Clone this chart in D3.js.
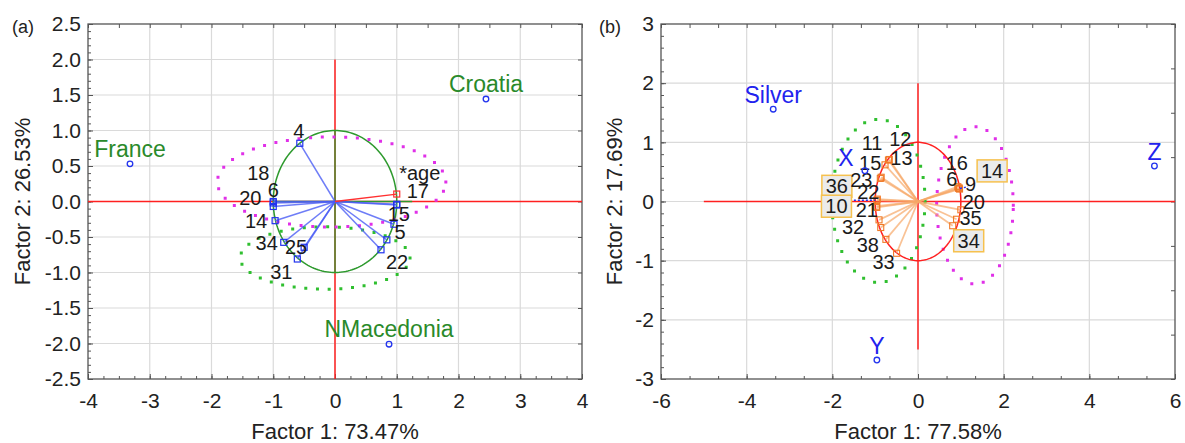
<!DOCTYPE html>
<html>
<head>
<meta charset="utf-8">
<script src="https://cdn.jsdelivr.net/npm/d3@7"></script>
<style>
body { margin: 0; background: #fff; }
text { font-family: "Liberation Sans", Arial, sans-serif; }
</style>
</head>
<body>
<svg id="chart" width="1185" height="443"></svg>
<script>
// ---- panel (a) data ----
const aVarNames = ["4", "18", "6", "20", "14", "34", "25", "31", "15", "17", "5", "", "22"];
const aVarX = [-0.57, -1.0, -1.0, -1.0, -0.97, -0.83, -0.50, -0.61, 1.0, 1.0, 0.955, 0.84, 0.745];
const aVarY = [0.82, -0.02, 0.0, -0.07, -0.27, -0.575, -0.645, -0.81, -0.05, -0.04, -0.32, -0.54, -0.68];
const aSupNames = ["*age"];
const aSupX = [1.0];
const aSupY = [0.105];
const aCaseNames = ["France", "Croatia", "NMacedonia"];
const aCaseX = [-3.32, 2.445, 0.875];
const aCaseY = [0.53, 1.443, -2.01];
const aEllCx = [-0.055, -0.16];
const aEllCy = [0.275, -0.795];
const aEllRx = [1.85, 1.375];
const aEllRy = [0.635, 0.44];
const aXTicks = [-4, -3, -2, -1, 0, 1, 2, 3, 4];
const aYTicks = [-2.5, -2.0, -1.5, -1.0, -0.5, 0.0, 0.5, 1.0, 1.5, 2.0, 2.5];

// ---- panel (b) data ----
const bVarNames = ["16", "6", "9", "14", "20", "35", "34", "12", "13", "11", "15", "23", "22", "36", "21", "10", "32", "", "38", "33"];
const bVarX = [0.93, 0.95, 0.97, 0.96, 1.0, 0.90, 0.81, -0.67, -0.69, -0.77, -0.86, -0.88, -0.95, -0.96, -0.96, -0.97, -0.91, -0.87, -0.75, -0.50];
const bVarY = [0.25, 0.22, 0.21, 0.23, -0.14, -0.30, -0.41, 0.71, 0.70, 0.62, 0.41, 0.39, 0.04, 0.02, -0.10, -0.08, -0.31, -0.44, -0.64, -0.875];
const bBoxed = ["14", "34", "36", "10"];
const bCaseNames = ["Silver", "X", "Y", "Z"];
const bCaseX = [-3.38, -1.24, -0.96, 5.52];
const bCaseY = [1.56, 0.52, -2.68, 0.60];
const bEllCx = [-0.925, 1.33];
const bEllCy = [0.01, -0.065];
const bEllRx = [1.09, 0.895];
const bEllRy = [1.38, 1.33];
const bSegX1 = [-1.59, 0.98];
const bSegY1 = [0.02, 0.22];
const bSegX2 = [-1.0, 1.17];
const bSegY2 = [0.02, 0.25];
const bXTicks = [-6, -4, -2, 0, 2, 4, 6];
const bYTicks = [-3, -2, -1, 0, 1, 2, 3];

// label nudges in px (label centre relative to its point)
const nudgeA = {
    "4": [-1, -12], "18": [-15, -30], "6": [0, -12], "20": [-23, -8], "14": [-19, 0],
    "34": [-17, 1], "25": [-8, 0], "31": [-16, 13], "15": [2, 9], "17": [21, -13],
    "5": [6, 8], "22": [16, 12], "*age": [23, -21]
};
const nudgeB = {
    "16": [-1, -24], "6": [-7, -9], "9": [11, -5], "14": [33, -17], "20": [13, -8],
    "35": [14, -1], "34": [16, 15], "12": [11, -20], "13": [13, -2], "11": [-13, -22],
    "15": [-11, -14], "23": [-19, 2], "22": [-9, -7], "36": [-40, -14], "21": [-10, 3],
    "10": [-40, 0], "32": [-26, 7], "38": [-18, 6], "33": [-13, 9]
};
const caseNudgeB = { "Silver": [0, -14], "X": [-19, -13], "Y": [0, -14], "Z": [0, -14] };

const svg = d3.select("#chart");
const gridColor = "#dadada";
const frameColor = "#555";
const hyphen = f => (d => f(d).replace("\u2212", "-"));

function zip(names, xs, ys) {
    return names.map((n, i) => ({ name: n, x: xs[i], y: ys[i] }));
}

function ellipsePath(x, y, cx, cy, rx, ry) {
    const pts = d3.range(0, 361, 2).map(a => {
        const t = a * Math.PI / 180;
        return [x(cx + rx * Math.cos(t)), y(cy + ry * Math.sin(t))];
    });
    return d3.line()(pts);
}

function frame(p) {
    const x = d3.scaleLinear().domain(p.xDomain).range([p.left, p.right]);
    const y = d3.scaleLinear().domain(p.yDomain).range([p.bottom, p.top]);
    const g = svg.append("g");

    // grid
    g.selectAll(".gx").data(p.xTicks.slice(1, -1)).join("line")
        .attr("class", "gx")
        .attr("x1", d => x(d)).attr("x2", d => x(d))
        .attr("y1", p.top).attr("y2", p.bottom)
        .attr("stroke", gridColor).attr("stroke-width", 1.2);
    g.selectAll(".gy").data(p.yTicks.slice(1, -1)).join("line")
        .attr("class", "gy")
        .attr("y1", d => y(d)).attr("y2", d => y(d))
        .attr("x1", p.left).attr("x2", p.right)
        .attr("stroke", gridColor).attr("stroke-width", 1.2);

    // axes, ticks pointing inward
    const axes = g.append("g");
    axes.append("g").attr("transform", `translate(0,${p.bottom})`)
        .call(d3.axisBottom(x).tickValues(p.xTicks).tickSize(-5).tickPadding(14).tickFormat(hyphen(p.xFmt)));
    axes.append("g").attr("transform", `translate(${p.left},0)`)
        .call(d3.axisLeft(y).tickValues(p.yTicks).tickSize(-5).tickPadding(7).tickFormat(hyphen(p.yFmt)));
    axes.append("g").attr("transform", `translate(0,${p.bottom})`)
        .call(d3.axisBottom(x).tickValues(p.xMinor).tickSize(-3).tickFormat(""));
    axes.append("g").attr("transform", `translate(${p.left},0)`)
        .call(d3.axisLeft(y).tickValues(p.yMinor).tickSize(-3).tickFormat(""));
    axes.append("g").attr("transform", `translate(0,${p.top})`)
        .call(d3.axisTop(x).tickValues(p.xTop).tickSize(-4).tickFormat(""));
    axes.append("g").attr("transform", `translate(${p.right},0)`)
        .call(d3.axisRight(y).tickValues(p.yRight).tickSize(-4).tickFormat(""));
    axes.selectAll(".domain").remove();
    axes.selectAll(".tick line").attr("stroke", frameColor);
    axes.selectAll(".tick text").attr("font-size", 21).attr("fill", "#222")
        .style("font-family", '"Liberation Sans", Arial, sans-serif');

    axes.append("rect")
        .attr("x", p.left).attr("y", p.top)
        .attr("width", p.right - p.left).attr("height", p.bottom - p.top)
        .attr("fill", "none").attr("stroke", frameColor).attr("stroke-width", 1.3);

    // titles
    svg.append("text").attr("x", (p.left + p.right) / 2).attr("y", 439)
        .attr("text-anchor", "middle").attr("font-size", 22).attr("fill", "#222")
        .text(p.xTitle);
    svg.append("text")
        .attr("transform", `translate(${p.yTitleX},${(p.top + p.bottom) / 2}) rotate(-90)`)
        .attr("text-anchor", "middle").attr("dominant-baseline", "central")
        .attr("font-size", 22).attr("fill", "#222")
        .text(p.yTitle);
    svg.append("text").attr("x", p.tagX).attr("y", 33)
        .attr("font-size", 18).attr("fill", "#222").text(p.tag);

    const marks = svg.append("g");
    return { x, y, g: marks };
}

function dotted(g, x, y, cx, cy, rx, ry, color) {
    g.selectAll(null).data(cx).join("path")
        .attr("d", (d, i) => ellipsePath(x, y, cx[i], cy[i], rx[i], ry[i]))
        .attr("fill", "none")
        .attr("stroke", (d, i) => color[i])
        .attr("stroke-width", 3)
        .attr("stroke-linecap", "square")
        .attr("stroke-dasharray", "0 11.7");
}

function redAxes(g, x, y, x0, x1, y0, y1) {
    g.append("line").attr("x1", x(x0)).attr("x2", x(x1)).attr("y1", y(0)).attr("y2", y(0))
        .attr("stroke", "#ff2020").attr("stroke-width", 1.5);
    g.append("line").attr("x1", x(0)).attr("x2", x(0)).attr("y1", y(y0)).attr("y2", y(y1))
        .attr("stroke", "#ff2020").attr("stroke-width", 1.5);
}

// ================= panel (a) =================
(function () {
    const p = {
        left: 88, right: 582, top: 24, bottom: 379,
        xDomain: [-4, 4], yDomain: [-2.5, 2.5],
        xTicks: aXTicks, yTicks: aYTicks,
        xMinor: d3.range(-4, 4.001, 0.25), yMinor: d3.range(-2.5, 2.501, 0.1),
        xTop: d3.range(-4, 4.001, 0.5), yRight: d3.range(-2.5, 2.501, 0.5),
        xFmt: d3.format("d"), yFmt: d3.format(".1f"),
        xTitle: "Factor 1: 73.47%", yTitle: "Factor 2: 26.53%",
        yTitleX: 22, tag: "(a)", tagX: 12
    };
    const { x, y, g } = frame(p);

    redAxes(g, x, y, -4, 4, 2, -2.5);

    // green unit circle and its cross
    g.append("path").attr("d", ellipsePath(x, y, 0, 0, 1, 1))
        .attr("fill", "none").attr("stroke", "#2e9a2e").attr("stroke-width", 1.5);
    g.append("line").attr("x1", x(-1)).attr("x2", x(1.25)).attr("y1", y(0)).attr("y2", y(0))
        .attr("stroke", "#2e9a2e").attr("stroke-width", 1.3);
    g.append("line").attr("x1", x(0)).attr("x2", x(0)).attr("y1", y(1)).attr("y2", y(-1))
        .attr("stroke", "#2e9a2e").attr("stroke-width", 1.3);

    dotted(g, x, y, aEllCx, aEllCy, aEllRx, aEllRy, ["#e030e8", "#2fbf2f"]);

    const vars = zip(aVarNames, aVarX, aVarY);
    g.selectAll(".vec").data(vars).join("line")
        .attr("x1", x(0)).attr("y1", y(0))
        .attr("x2", d => x(d.x)).attr("y2", d => y(d.y))
        .attr("stroke", "#4a5cf5").attr("stroke-opacity", 0.8).attr("stroke-width", 1.5);
    g.selectAll(".vpt").data(vars).join("rect")
        .attr("x", d => x(d.x) - 3).attr("y", d => y(d.y) - 3)
        .attr("width", 6).attr("height", 6)
        .attr("fill", "none").attr("stroke", "#2233ee").attr("stroke-width", 1.2);

    const sups = zip(aSupNames, aSupX, aSupY);
    g.selectAll(".svec").data(sups).join("line")
        .attr("x1", x(0)).attr("y1", y(0))
        .attr("x2", d => x(d.x)).attr("y2", d => y(d.y))
        .attr("stroke", "#ff3030").attr("stroke-width", 1.3);
    g.selectAll(".spt").data(sups).join("rect")
        .attr("x", d => x(d.x) - 3).attr("y", d => y(d.y) - 3)
        .attr("width", 6).attr("height", 6)
        .attr("fill", "none").attr("stroke", "#ff3030").attr("stroke-width", 1.2);

    g.selectAll(".vlab").data(vars.concat(sups).filter(d => d.name !== "")).join("text")
        .attr("x", d => x(d.x) + nudgeA[d.name][0])
        .attr("y", d => y(d.y) + nudgeA[d.name][1])
        .attr("text-anchor", "middle").attr("dominant-baseline", "central")
        .attr("font-size", 20).attr("fill", "#1a1a1a")
        .text(d => d.name);

    const cases = zip(aCaseNames, aCaseX, aCaseY);
    g.selectAll(".cpt").data(cases).join("circle")
        .attr("cx", d => x(d.x)).attr("cy", d => y(d.y)).attr("r", 2.8)
        .attr("fill", "none").attr("stroke", "#2233ee").attr("stroke-width", 1.3);
    g.selectAll(".clab").data(cases).join("text")
        .attr("x", d => x(d.x)).attr("y", d => y(d.y) - 15)
        .attr("text-anchor", "middle").attr("dominant-baseline", "central")
        .attr("font-size", 23).attr("fill", "#2a8a2a")
        .text(d => d.name);
})();

// ================= panel (b) =================
(function () {
    const p = {
        left: 661, right: 1175, top: 24, bottom: 379,
        xDomain: [-6, 6], yDomain: [-3, 3],
        xTicks: bXTicks, yTicks: bYTicks,
        xMinor: d3.range(-6, 6.001, 2 / 3), yMinor: d3.range(-3, 3.001, 0.2),
        xTop: d3.range(-6, 6.001, 2 / 3), yRight: d3.range(-3, 3.001, 0.75),
        xFmt: d3.format("d"), yFmt: d3.format("d"),
        xTitle: "Factor 1: 77.58%", yTitle: "Factor 2: 17.69%",
        yTitleX: 614, tag: "(b)", tagX: 599
    };
    const { x, y, g } = frame(p);

    redAxes(g, x, y, -5, 6, 2, -2.5);

    dotted(g, x, y, bEllCx, bEllCy, bEllRx, bEllRy, ["#2fbf2f", "#e030e8"]);

    g.append("path").attr("d", ellipsePath(x, y, 0, 0, 1, 1))
        .attr("fill", "none").attr("stroke", "#ff2020").attr("stroke-width", 1.5);

    const vars = zip(bVarNames, bVarX, bVarY);
    g.selectAll(".vec").data(vars).join("line")
        .attr("x1", x(0)).attr("y1", y(0))
        .attr("x2", d => x(d.x)).attr("y2", d => y(d.y))
        .attr("stroke", "#f6a868").attr("stroke-opacity", 0.7).attr("stroke-width", 1.8);
    g.selectAll(".vpt").data(vars).join("rect")
        .attr("x", d => x(d.x) - 3).attr("y", d => y(d.y) - 3)
        .attr("width", 6).attr("height", 6)
        .attr("fill", "none").attr("stroke", "#f07a28").attr("stroke-width", 1.1);

    g.selectAll(".seg").data(bSegX1).join("line")
        .attr("x1", (d, i) => x(bSegX1[i])).attr("y1", (d, i) => y(bSegY1[i]))
        .attr("x2", (d, i) => x(bSegX2[i])).attr("y2", (d, i) => y(bSegY2[i]))
        .attr("stroke", "#2233ee").attr("stroke-width", 1.4).attr("stroke-dasharray", "2 2");

    const labelled = vars.filter(d => d.name !== "");
    const boxed = labelled.filter(d => bBoxed.includes(d.name));
    g.selectAll(".box").data(boxed).join("rect")
        .attr("x", d => x(d.x) + nudgeB[d.name][0] - 15)
        .attr("y", d => y(d.y) + nudgeB[d.name][1] - 11)
        .attr("width", 30).attr("height", 22)
        .attr("fill", "#ebebeb").attr("stroke", "#f6c14e").attr("stroke-width", 1.5);
    g.selectAll(".vlab").data(labelled).join("text")
        .attr("x", d => x(d.x) + nudgeB[d.name][0])
        .attr("y", d => y(d.y) + nudgeB[d.name][1])
        .attr("text-anchor", "middle").attr("dominant-baseline", "central")
        .attr("font-size", 20).attr("fill", "#1a1a1a")
        .text(d => d.name);

    const cases = zip(bCaseNames, bCaseX, bCaseY);
    g.selectAll(".cpt").data(cases).join("circle")
        .attr("cx", d => x(d.x)).attr("cy", d => y(d.y)).attr("r", 2.8)
        .attr("fill", "none").attr("stroke", "#2233ee").attr("stroke-width", 1.3);
    g.selectAll(".clab").data(cases).join("text")
        .attr("x", d => x(d.x) + caseNudgeB[d.name][0])
        .attr("y", d => y(d.y) + caseNudgeB[d.name][1])
        .attr("text-anchor", "middle").attr("dominant-baseline", "central")
        .attr("font-size", 23).attr("fill", "#2222ee")
        .text(d => d.name);
})();
</script>
</body>
</html>
